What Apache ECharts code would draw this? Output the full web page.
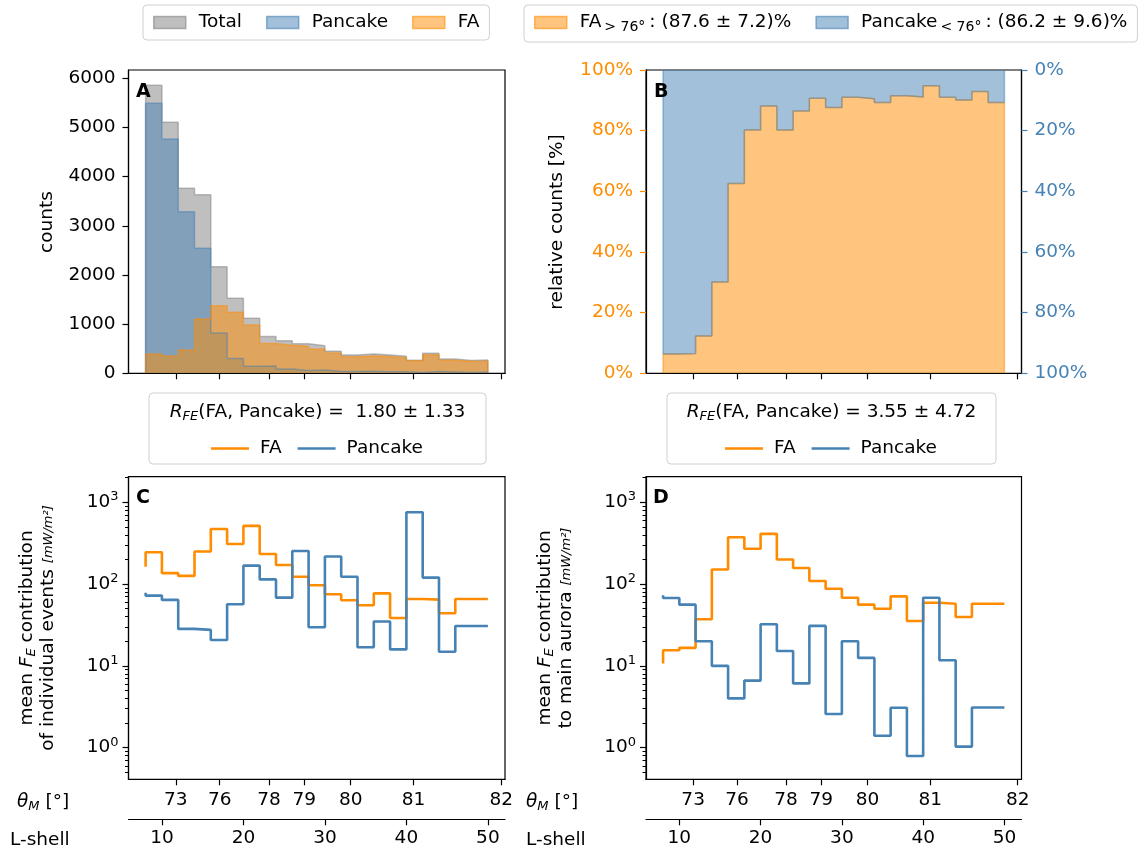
<!DOCTYPE html>
<html>
<head>
<meta charset="utf-8">
<script src="https://cdn.jsdelivr.net/npm/echarts@6/dist/echarts.min.js"></script>
<style>
    html, body { margin: 0; padding: 0; background: #fff; }
    #main { width: 1144px; height: 854px; }
</style>
</head>
<body>
<div id="main"></div>
<script>
// L-shell bin edges (bins of width 2 from 8 to 50)
var binEdges = [8, 10, 12, 14, 16, 18, 20, 22, 24, 26, 28, 30, 32, 34, 36, 38, 40, 42, 44, 46, 48, 50];

// panel A: counts per bin
var totalCounts   = [5860, 5105, 3765, 3630, 2170, 1525, 1120, 750, 660, 600, 560, 450, 372, 392, 372, 345, 268, 410, 292, 262, 270];
var pancakeCounts = [5492, 4766, 3288, 2542, 820, 300, 145, 147, 89, 55, 69, 40, 35, 41, 31, 30, 14, 37, 28, 18, 28];
var faCounts      = [393, 352, 474, 1105, 1376, 1241, 983, 605, 572, 548, 496, 412, 338, 354, 341, 316, 254, 376, 266, 244, 244];

// panel B: relative counts [%]
var faPct      = [6.4, 6.5, 12.3, 30.1, 62.6, 80.2, 88.1, 80.2, 86.5, 90.7, 87.6, 91.0, 90.5, 89.3, 91.5, 91.1, 94.8, 91.0, 90.1, 92.9, 89.3];
var pancakePct = [93.6, 93.5, 87.7, 69.9, 37.4, 19.8, 11.9, 19.8, 13.5, 9.3, 12.4, 9.0, 9.5, 10.7, 8.5, 8.9, 5.2, 9.0, 9.9, 7.1, 10.7];

// panel C / D: mean F_E (one value per edge, step drawn 'pre')
var cFa  = [163, 245, 136, 126, 250, 472, 309, 514, 233, 171, 123, 96.6, 75, 63.3, 55, 77, 38.5, 65.8, 64.6, 43.9, 65.8, 65.8];
var cPan = [78.5, 72.3, 64, 28.3, 27.5, 20.7, 56.6, 168, 114, 68.2, 254, 29.6, 217, 123, 16.9, 34.8, 15.9, 755, 120, 14.9, 30.7, 30.7];
var dFa  = [10.7, 15.5, 16.6, 37.1, 151, 374, 270, 411, 200, 157, 109, 87.8, 68.1, 56, 50, 70.8, 35.4, 59.1, 57.5, 39.6, 57.5, 57.5];
var dPan = [72.8, 67.5, 56, 20, 10, 4.0, 6.6, 32.2, 15.2, 6.1, 30.8, 2.58, 20, 12.5, 1.4, 3.08, 0.79, 68.1, 11.7, 1.03, 3.1, 3.1];

// tick labels
var thetaTicks = [73, 76, 78, 79, 80, 81, 82];
var lshellTicks = [10, 20, 30, 40, 50];
var countTicksMax = 6170;
var logMajor = [1, 10, 100, 1000];

var FONT = 'DejaVu Sans';
var FS = 18.5;
var FA_COLOR = '#ff8c00';
var PAN_COLOR = '#4682b4';
var GRAY = '#808080';
var xMin = 5.9, xMax = 52.1;
var logMin = 0.41, logMax = 2055;

function rgba(hex, a) {
    var n = parseInt(hex.slice(1), 16);
    return 'rgba(' + (n >> 16) + ',' + ((n >> 8) & 255) + ',' + (n & 255) + ',' + a + ')';
}

// theta_M -> L-shell (L = 1/cos^2)
var thetaL = thetaTicks.map(function (t) {
    var c = Math.cos(t * Math.PI / 180);
    return 1 / (c * c);
});
function thetaLabel(v) {
    return String(Math.round(Math.acos(1 / Math.sqrt(v)) * 180 / Math.PI));
}

var logMinor = [];
[0.1, 1, 10, 100, 1000].forEach(function (p) {
    for (var m = 2; m <= 9; m++) {
        var v = m * p;
        if (v > logMin && v < logMax) logMinor.push(v);
    }
});

var tickLine = { color: '#000', width: 1.2 };
var labelBase = { color: '#000', fontFamily: FONT, fontSize: FS };

function thetaAxis(gi, showLabel) {
    return {
        type: 'value', gridIndex: gi, min: xMin, max: xMax, position: 'bottom', z: 10,
        axisLine: { show: true, lineStyle: tickLine },
        axisTick: { show: true, customValues: thetaL, length: 6, lineStyle: tickLine },
        axisLabel: Object.assign({ show: showLabel, customValues: thetaL, formatter: thetaLabel, margin: 11 }, labelBase),
        splitLine: { show: false }
    };
}
function lshellAxis(gi) {
    return {
        type: 'value', gridIndex: gi, min: xMin, max: xMax, position: 'bottom', offset: 40, z: 10,
        axisLine: { show: true, lineStyle: tickLine },
        axisTick: { show: true, customValues: lshellTicks, length: 6, lineStyle: tickLine },
        axisLabel: Object.assign({ customValues: lshellTicks, formatter: function (v) { return String(v); }, margin: 9 }, labelBase),
        splitLine: { show: false }
    };
}
function logAxis(gi) {
    return {
        type: 'log', logBase: 10, gridIndex: gi, min: logMin, max: logMax, position: 'left', z: 10,
        axisLine: { show: true, lineStyle: tickLine },
        axisTick: { show: true, customValues: logMajor, length: 6, lineStyle: tickLine },
        axisLabel: Object.assign({
            customValues: logMajor, margin: 10,
            formatter: function (v) { return '{n|10}{s|' + Math.round(Math.log10(v)) + '}'; },
            rich: {
                n: { fontFamily: FONT, fontSize: FS, color: '#000' },
                s: { fontFamily: FONT, fontSize: 13, color: '#000', padding: [0, 0, 11, 0] }
            }
        }, labelBase),
        splitLine: { show: false }
    };
}
function logMinorAxis(gi) {
    return {
        type: 'log', logBase: 10, gridIndex: gi, min: logMin, max: logMax, position: 'left', z: 10,
        axisLine: { show: false },
        axisTick: { show: true, customValues: logMinor, length: 3.5, lineStyle: { color: '#000', width: 1 } },
        axisLabel: { show: false },
        splitLine: { show: false }
    };
}

// stepfilled histogram outline
function histPoints(vals) {
    var pts = [[binEdges[0], 0]];
    vals.forEach(function (v, i) { pts.push([binEdges[i], v]); });
    pts.push([binEdges[binEdges.length - 1], vals[vals.length - 1]]);
    pts.push([binEdges[binEdges.length - 1], 0]);
    return pts;
}
function stepFill(name, xi, yi, vals, color) {
    return {
        name: name, type: 'line', xAxisIndex: xi, yAxisIndex: yi, step: 'end', symbol: 'none',
        data: histPoints(vals), silent: true,
        lineStyle: { color: rgba(color, 0.5), width: 1.5 },
        itemStyle: { color: rgba(color, 0.5) },
        areaStyle: { color: rgba(color, 0.5), opacity: 1 }
    };
}
function stepLine(name, xi, yi, vals, color) {
    return {
        name: name, type: 'line', xAxisIndex: xi, yAxisIndex: yi, step: 'start', symbol: 'none',
        data: binEdges.map(function (x, i) { return [x, vals[i]]; }), silent: true,
        lineStyle: { color: color, width: 2.6 },
        itemStyle: { color: color }
    };
}

var subRich = {
    it: { fontFamily: FONT, fontSize: FS, fontStyle: 'italic' },
    sb: { fontFamily: FONT, fontSize: 13, fontStyle: 'italic', padding: [9, 0, 0, 0] },
    t: { fontFamily: FONT, fontSize: FS },
    fr: { fontFamily: FONT, fontSize: 13, fontStyle: 'italic' }
};

var chart = echarts.init(document.getElementById('main'));

var option = {
    animation: false,
    backgroundColor: '#fff',
    textStyle: { fontFamily: FONT },
    grid: [
        { left: 128.5, top: 70, width: 376.5, height: 303.3, show: true, borderColor: '#000', borderWidth: 1.2, backgroundColor: 'transparent' },
        { left: 646, top: 70, width: 375.5, height: 303.3, show: true, borderColor: '#000', borderWidth: 1.2, backgroundColor: 'transparent' },
        { left: 128.5, top: 476.7, width: 376.5, height: 302.6, show: true, borderColor: '#000', borderWidth: 1.2, backgroundColor: 'transparent' },
        { left: 646, top: 476.7, width: 375.5, height: 302.6, show: true, borderColor: '#000', borderWidth: 1.2, backgroundColor: 'transparent' }
    ],
    xAxis: [
        thetaAxis(0, false),
        thetaAxis(1, false),
        thetaAxis(2, true),
        lshellAxis(2),
        thetaAxis(3, true),
        lshellAxis(3)
    ],
    yAxis: [
        {
            type: 'value', gridIndex: 0, min: 0, max: countTicksMax, interval: 1000, z: 10,
            axisLine: { show: true, lineStyle: tickLine },
            axisTick: { show: true, length: 6, lineStyle: tickLine },
            axisLabel: Object.assign({ margin: 13, showMaxLabel: false, formatter: function (v) { return String(v); } }, labelBase),
            splitLine: { show: false }
        },
        {
            type: 'value', gridIndex: 1, min: 0, max: 100, interval: 20, z: 10,
            axisLine: { show: true, lineStyle: tickLine },
            axisTick: { show: true, length: 6, lineStyle: { color: FA_COLOR, width: 1.2 } },
            axisLabel: Object.assign({}, labelBase, { formatter: '{value}%', color: FA_COLOR, margin: 13 }),
            splitLine: { show: false }
        },
        {
            type: 'value', gridIndex: 1, position: 'right', inverse: true, min: 0, max: 100, interval: 20, z: 10,
            axisLine: { show: true, lineStyle: tickLine },
            axisTick: { show: true, length: 6, lineStyle: { color: PAN_COLOR, width: 1.2 } },
            axisLabel: Object.assign({}, labelBase, { formatter: '{value}%', color: PAN_COLOR, margin: 13 }),
            splitLine: { show: false }
        },
        logAxis(2),
        logMinorAxis(2),
        logAxis(3),
        logMinorAxis(3)
    ],
    legend: [
        {
            left: 143, top: 5, padding: [8, 10], itemGap: 24, itemWidth: 32, itemHeight: 12,
            selectedMode: false, backgroundColor: '#fff', borderColor: '#d0d0d0', borderWidth: 1, borderRadius: 4,
            textStyle: { fontFamily: FONT, fontSize: FS, color: '#000', padding: [0, 0, 0, 8] },
            data: [
                { name: 'Total', icon: 'rect', itemStyle: { color: rgba(GRAY, 0.5), borderColor: rgba(GRAY, 0.6), borderWidth: 1.5 } },
                { name: 'Pancake', icon: 'rect', itemStyle: { color: rgba(PAN_COLOR, 0.5), borderColor: rgba(PAN_COLOR, 0.6), borderWidth: 1.5 } },
                { name: 'FA', icon: 'rect', itemStyle: { color: rgba(FA_COLOR, 0.5), borderColor: rgba(FA_COLOR, 0.6), borderWidth: 1.5 } }
            ]
        },
        {
            left: 524, top: 5, padding: [8, 10], itemGap: 24, itemWidth: 32, itemHeight: 12,
            selectedMode: false, backgroundColor: '#fff', borderColor: '#d0d0d0', borderWidth: 1, borderRadius: 4,
            formatter: function (name) {
                if (name === 'FA_B') return 'FA{sub|> 76°}: (87.6 ± 7.2)%';
                return 'Pancake{sub|< 76°}: (86.2 ± 9.6)%';
            },
            textStyle: {
                fontFamily: FONT, fontSize: FS, color: '#000', padding: [0, 0, 0, 8],
                rich: { sub: { fontFamily: FONT, fontSize: 14, color: '#000', padding: [9, 4, 0, 3] } }
            },
            data: [
                { name: 'FA_B', icon: 'rect', itemStyle: { color: rgba(FA_COLOR, 0.5), borderColor: rgba(FA_COLOR, 0.6), borderWidth: 1.5 } },
                { name: 'Pancake_B', icon: 'rect', itemStyle: { color: rgba(PAN_COLOR, 0.5), borderColor: rgba(PAN_COLOR, 0.6), borderWidth: 1.5 } }
            ]
        },
        {
            left: 206, top: 434, itemGap: 16, itemWidth: 38, itemHeight: 2.6, selectedMode: false,
            formatter: function (name) { return name.split('_')[0]; },
            textStyle: { fontFamily: FONT, fontSize: FS, color: '#000', padding: [0, 0, 0, 6] },
            data: [
                { name: 'FA_C', icon: 'rect', itemStyle: { color: FA_COLOR, borderWidth: 0 } },
                { name: 'Pancake_C', icon: 'rect', itemStyle: { color: PAN_COLOR, borderWidth: 0 } }
            ]
        },
        {
            left: 720, top: 434, itemGap: 16, itemWidth: 38, itemHeight: 2.6, selectedMode: false,
            formatter: function (name) { return name.split('_')[0]; },
            textStyle: { fontFamily: FONT, fontSize: FS, color: '#000', padding: [0, 0, 0, 6] },
            data: [
                { name: 'FA_D', icon: 'rect', itemStyle: { color: FA_COLOR, borderWidth: 0 } },
                { name: 'Pancake_D', icon: 'rect', itemStyle: { color: PAN_COLOR, borderWidth: 0 } }
            ]
        }
    ],
    graphic: [
        // legend frames of C and D
        { type: 'rect', shape: { x: 149, y: 393, width: 337, height: 71, r: 4 }, style: { fill: '#fff', stroke: '#d0d0d0', lineWidth: 1 } },
        { type: 'rect', shape: { x: 667, y: 393, width: 329, height: 71, r: 4 }, style: { fill: '#fff', stroke: '#d0d0d0', lineWidth: 1 } },
        {
            type: 'text', x: 317.5, y: 412, z: 5,
            style: { text: '{it|R}{sb|FE}{t|(FA, Pancake) =  1.80 ± 1.33}', align: 'center', verticalAlign: 'middle', rich: subRich }
        },
        {
            type: 'text', x: 831.5, y: 412, z: 5,
            style: { text: '{it|R}{sb|FE}{t|(FA, Pancake) = 3.55 ± 4.72}', align: 'center', verticalAlign: 'middle', rich: subRich }
        },
        // panel letters
        { type: 'text', x: 136, y: 92, z: 20, style: { text: 'A', fontFamily: FONT, fontSize: 19, fontWeight: 'bold', fill: '#000', verticalAlign: 'middle' } },
        { type: 'text', x: 654, y: 92, z: 20, style: { text: 'B', fontFamily: FONT, fontSize: 19, fontWeight: 'bold', fill: '#000', verticalAlign: 'middle' } },
        { type: 'text', x: 136, y: 498, z: 20, style: { text: 'C', fontFamily: FONT, fontSize: 19, fontWeight: 'bold', fill: '#000', verticalAlign: 'middle' } },
        { type: 'text', x: 653, y: 498, z: 20, style: { text: 'D', fontFamily: FONT, fontSize: 19, fontWeight: 'bold', fill: '#000', verticalAlign: 'middle' } },
        // y axis titles
        { type: 'text', x: 47, y: 222, rotation: Math.PI / 2, style: { text: 'counts', fontFamily: FONT, fontSize: FS, fill: '#000', align: 'center', verticalAlign: 'middle' } },
        { type: 'text', x: 557, y: 222, rotation: Math.PI / 2, style: { text: 'relative counts [%]', fontFamily: FONT, fontSize: FS, fill: '#000', align: 'center', verticalAlign: 'middle' } },
        {
            type: 'text', x: 38, y: 628, rotation: Math.PI / 2,
            style: {
                text: '{t|mean }{it|F}{sb|E}{t| contribution}\n{t|of individual events }{fr|[mW/m²]}',
                align: 'center', verticalAlign: 'middle', lineHeight: 21, rich: subRich
            }
        },
        {
            type: 'text', x: 556, y: 628, rotation: Math.PI / 2,
            style: {
                text: '{t|mean }{it|F}{sb|E}{t| contribution}\n{t|to main aurora }{fr|[mW/m²]}',
                align: 'center', verticalAlign: 'middle', lineHeight: 21, rich: subRich
            }
        },
        // bottom axis titles
        { type: 'text', x: 17, y: 802, style: { text: '{it|θ}{sb|M}{t| [°]}', verticalAlign: 'middle', rich: subRich } },
        { type: 'text', x: 526, y: 802, style: { text: '{it|θ}{sb|M}{t| [°]}', verticalAlign: 'middle', rich: subRich } },
        { type: 'text', x: 10, y: 840, style: { text: 'L-shell', fontFamily: FONT, fontSize: FS, fill: '#000', verticalAlign: 'middle' } },
        { type: 'text', x: 526, y: 840, style: { text: 'L-shell', fontFamily: FONT, fontSize: FS, fill: '#000', verticalAlign: 'middle' } }
    ],
    series: [
        stepFill('Total', 0, 0, totalCounts, GRAY),
        stepFill('Pancake', 0, 0, pancakeCounts, PAN_COLOR),
        stepFill('FA', 0, 0, faCounts, FA_COLOR),
        stepFill('FA_B', 1, 1, faPct, FA_COLOR),
        stepFill('Pancake_B', 1, 2, pancakePct, PAN_COLOR),
        stepLine('FA_C', 2, 3, cFa, FA_COLOR),
        stepLine('Pancake_C', 2, 3, cPan, PAN_COLOR),
        stepLine('FA_D', 4, 5, dFa, FA_COLOR),
        stepLine('Pancake_D', 4, 5, dPan, PAN_COLOR)
    ]
};

chart.setOption(option);
</script>
</body>
</html>
